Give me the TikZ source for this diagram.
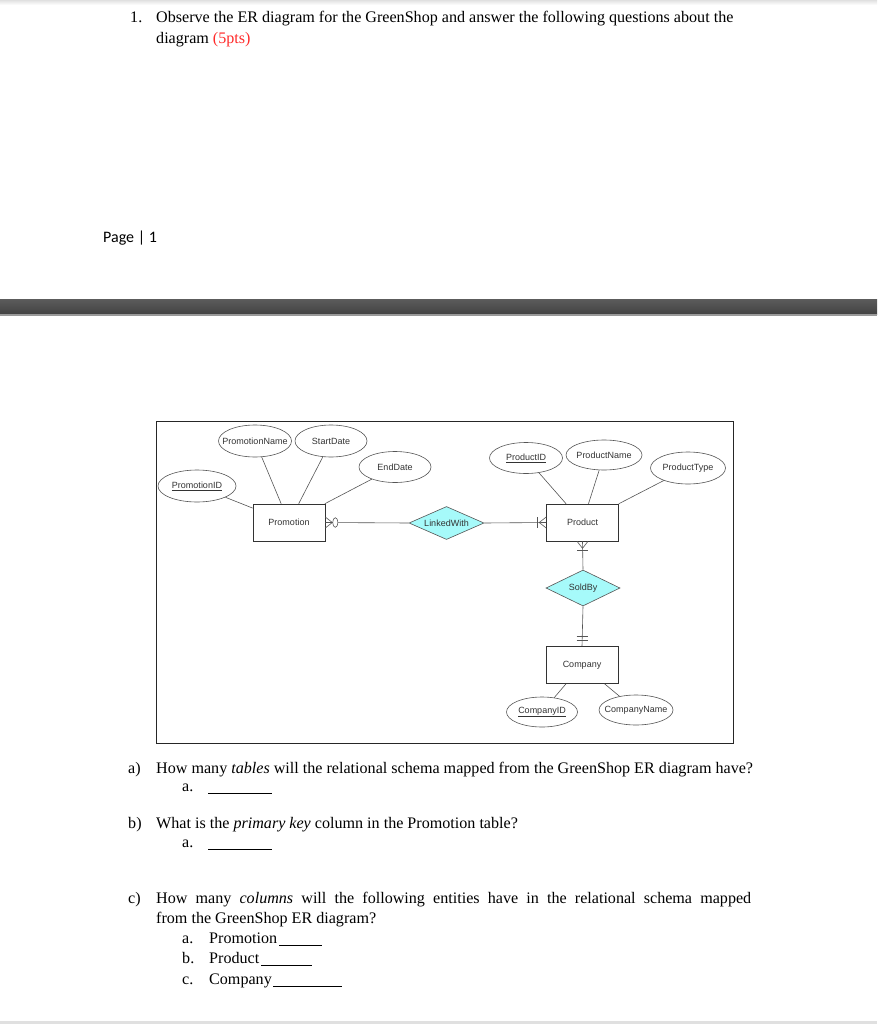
\documentclass[tikz,border=0pt]{standalone}
\usepackage{fontspec}
\setmainfont{Liberation Serif}
\newfontfamily\arialf{Liberation Sans}
\newfontfamily\calibrif{Carlito}
\usetikzlibrary{shapes.geometric,calc}
\definecolor{ergray}{HTML}{555555}
\definecolor{ertext}{HTML}{333333}
\definecolor{relfill}{HTML}{A6FAFA}
\definecolor{ptsred}{HTML}{FF2A2A}
\newcommand{\zw}[1]{\makebox[0pt][c]{#1}}
\begin{document}
\begin{tikzpicture}[x=1pt,y=-1pt,
  attr/.style={ellipse,draw=ergray,line width=0.6pt,inner sep=0pt,minimum width=74pt,minimum height=31pt,font=\arialf\fontsize{9}{10}\selectfont,text=ertext},
  ent/.style={rectangle,draw=black!80,line width=0.6pt,inner sep=0pt,minimum width=72pt,minimum height=37pt,font=\arialf\fontsize{9}{10}\selectfont,text=ertext},
  rel/.style={diamond,draw=ergray,fill=relfill,line width=0.6pt,inner sep=0pt,minimum width=75pt,minimum height=34pt,font=\arialf\fontsize{9}{10}\selectfont,text=ertext},
  conn/.style={draw=ergray,line width=0.6pt},
  qtext/.style={anchor=base west,inner sep=0pt,font=\fontsize{16.1}{19}\selectfont}]
\useasboundingbox (0,0) rectangle (877,1024);
\fill[white] (0,0) rectangle (877,1024);
% page edges
\shade[top color=black!12,bottom color=white] (0,0) rectangle (877,5);
\fill[black!12] (0,1021) rectangle (877,1024);
% header question
\node[qtext] (n1) at (130,23) {1.};
\node[qtext] (q1a) at (156,23) {Observe the ER diagram for the GreenShop and answer the following questions about the};
\node[qtext] (q1b) at (156,44) {diagram \textcolor{ptsred}{(5pts)}};
% page footer
\node[anchor=base west,inner sep=0pt,font=\calibrif\fontsize{16}{18}\selectfont] (page) at (103,243) {Page | 1};
% page break band
\shade[top color=black!64,bottom color=black!74] (0,299) rectangle (877,314);
\fill[black!40] (0,314) rectangle (877,316);
% diagram frame
\node[draw=black!85,line width=0.8pt,minimum width=577pt,minimum height=322pt,inner sep=0pt] (frame) at (444.5,582) {};
% entities
\node[ent] (promo) at (289,522.5) {Promotion};
\node[ent] (prod) at (582.5,522.5) {Product};
\node[ent] (comp) at (582,665) {Company};
% relationships
\node[rel,minimum height=33pt] (linked) at (446.5,523) {\zw{LinkedWith}};
\node[rel,minimum width=74pt,minimum height=36pt] (soldby) at (583,588) {\zw{SoldBy}};
% attributes
\node[attr,minimum width=73pt,minimum height=32pt] (pname) at (255,441) {\zw{PromotionName}};
\node[attr,minimum width=72pt,minimum height=32pt] (sdate) at (331,441) {\zw{StartDate}};
\node[attr,minimum width=72pt,minimum height=31pt] (edate) at (395,467) {\zw{EndDate}};
\node[attr,minimum width=78pt,minimum height=32pt] (pid) at (197,486) {\zw{\underline{PromotionID}}};
\node[attr,minimum width=73pt,minimum height=31pt] (prid) at (526,458) {\zw{\underline{ProductID}}};
\node[attr,minimum width=76pt,minimum height=30pt] (prname) at (604,455) {\zw{ProductName}};
\node[attr,minimum width=75pt,minimum height=32pt] (prtype) at (688,468) {\zw{ProductType}};
\node[attr,minimum width=71pt,minimum height=30pt] (cid) at (542,712) {\zw{\underline{CompanyID}}};
\node[attr,minimum width=74pt,minimum height=30pt] (cname) at (636,710) {\zw{CompanyName}};
% attribute connectors
\draw[conn] (pid) -- (promo);
\draw[conn] (pname) -- (promo);
\draw[conn] (sdate) -- (promo);
\draw[conn] (edate) -- (promo);
\draw[conn] (prid) -- (prod);
\draw[conn] (prname) -- (prod);
\draw[conn] (prtype) -- (prod);
\draw[conn] (comp) -- (cid);
\draw[conn] (comp) -- (cname);
% relationship connectors
\draw[conn] (promo.east) -- (linked.west);
\draw[conn] (linked.east) -- (prod.west);
\draw[conn] (prod.south) -- (soldby.north);
\draw[conn] (soldby.south) -- (comp.north);
% crow's foot: zero or many at Promotion
\draw[conn] ($(promo.east)+(0,-5.5)$) -- ($(promo.east)+(7,0)$) -- ($(promo.east)+(0,5.5)$);
\draw[conn,fill=white] ($(promo.east)+(10,0)$) ellipse [x radius=2.6pt, y radius=4.8pt];
% one or many at Product (west)
\draw[conn] ($(prod.west)+(0,-5.5)$) -- ($(prod.west)+(-7,0)$) -- ($(prod.west)+(0,5.5)$);
\draw[conn] ($(prod.west)+(-9,-5.5)$) -- ($(prod.west)+(-9,5.5)$);
% one or many at Product (south)
\draw[conn] ($(prod.south)+(-5.5,0)$) -- ($(prod.south)+(0,7)$) -- ($(prod.south)+(5.5,0)$);
\draw[conn] ($(prod.south)+(-5.5,9)$) -- ($(prod.south)+(5.5,9)$);
% one and only one at Company
\draw[conn] ($(comp.north)+(-5.5,-10)$) -- ($(comp.north)+(5.5,-10)$);
\draw[conn] ($(comp.north)+(-5.5,-6)$) -- ($(comp.north)+(5.5,-6)$);
% questions
\node[qtext] (qa) at (128,773) {a)};
\node[qtext] (qat) at (156,773) {How many \textit{tables} will the relational schema mapped from the GreenShop ER diagram have?};
\node[qtext] (qaa) at (182,791) {a.};
\draw[line width=0.6pt] (208,793) -- (272,793);
\node[qtext] (qb) at (128,828) {b)};
\node[qtext] (qbt) at (156,828) {What is the \textit{primary key} column in the Promotion table?};
\node[qtext] (qba) at (182,847) {a.};
\draw[line width=0.6pt] (208,849) -- (272,849);
\node[qtext] (qc) at (128,903) {c)};
\node[qtext] (qct) at (156,903) {\makebox[595pt][s]{How many \textit{columns} will the following entities have in the relational schema mapped}};
\node[qtext] (qct2) at (156,923) {from the GreenShop ER diagram?};
\node[qtext] (qca) at (182,943) {a.};
\node[qtext] (qcat) at (209,943) {Promotion};
\draw[line width=0.6pt] (279,945) -- (322,945);
\node[qtext] (qcb) at (182,963) {b.};
\node[qtext] (qcbt) at (209,963) {Product};
\draw[line width=0.6pt] (261,965) -- (312,965);
\node[qtext] (qcc) at (182,984) {c.};
\node[qtext] (qcct) at (209,984) {Company};
\draw[line width=0.6pt] (273,986) -- (342,986);
\end{tikzpicture}
\end{document}
